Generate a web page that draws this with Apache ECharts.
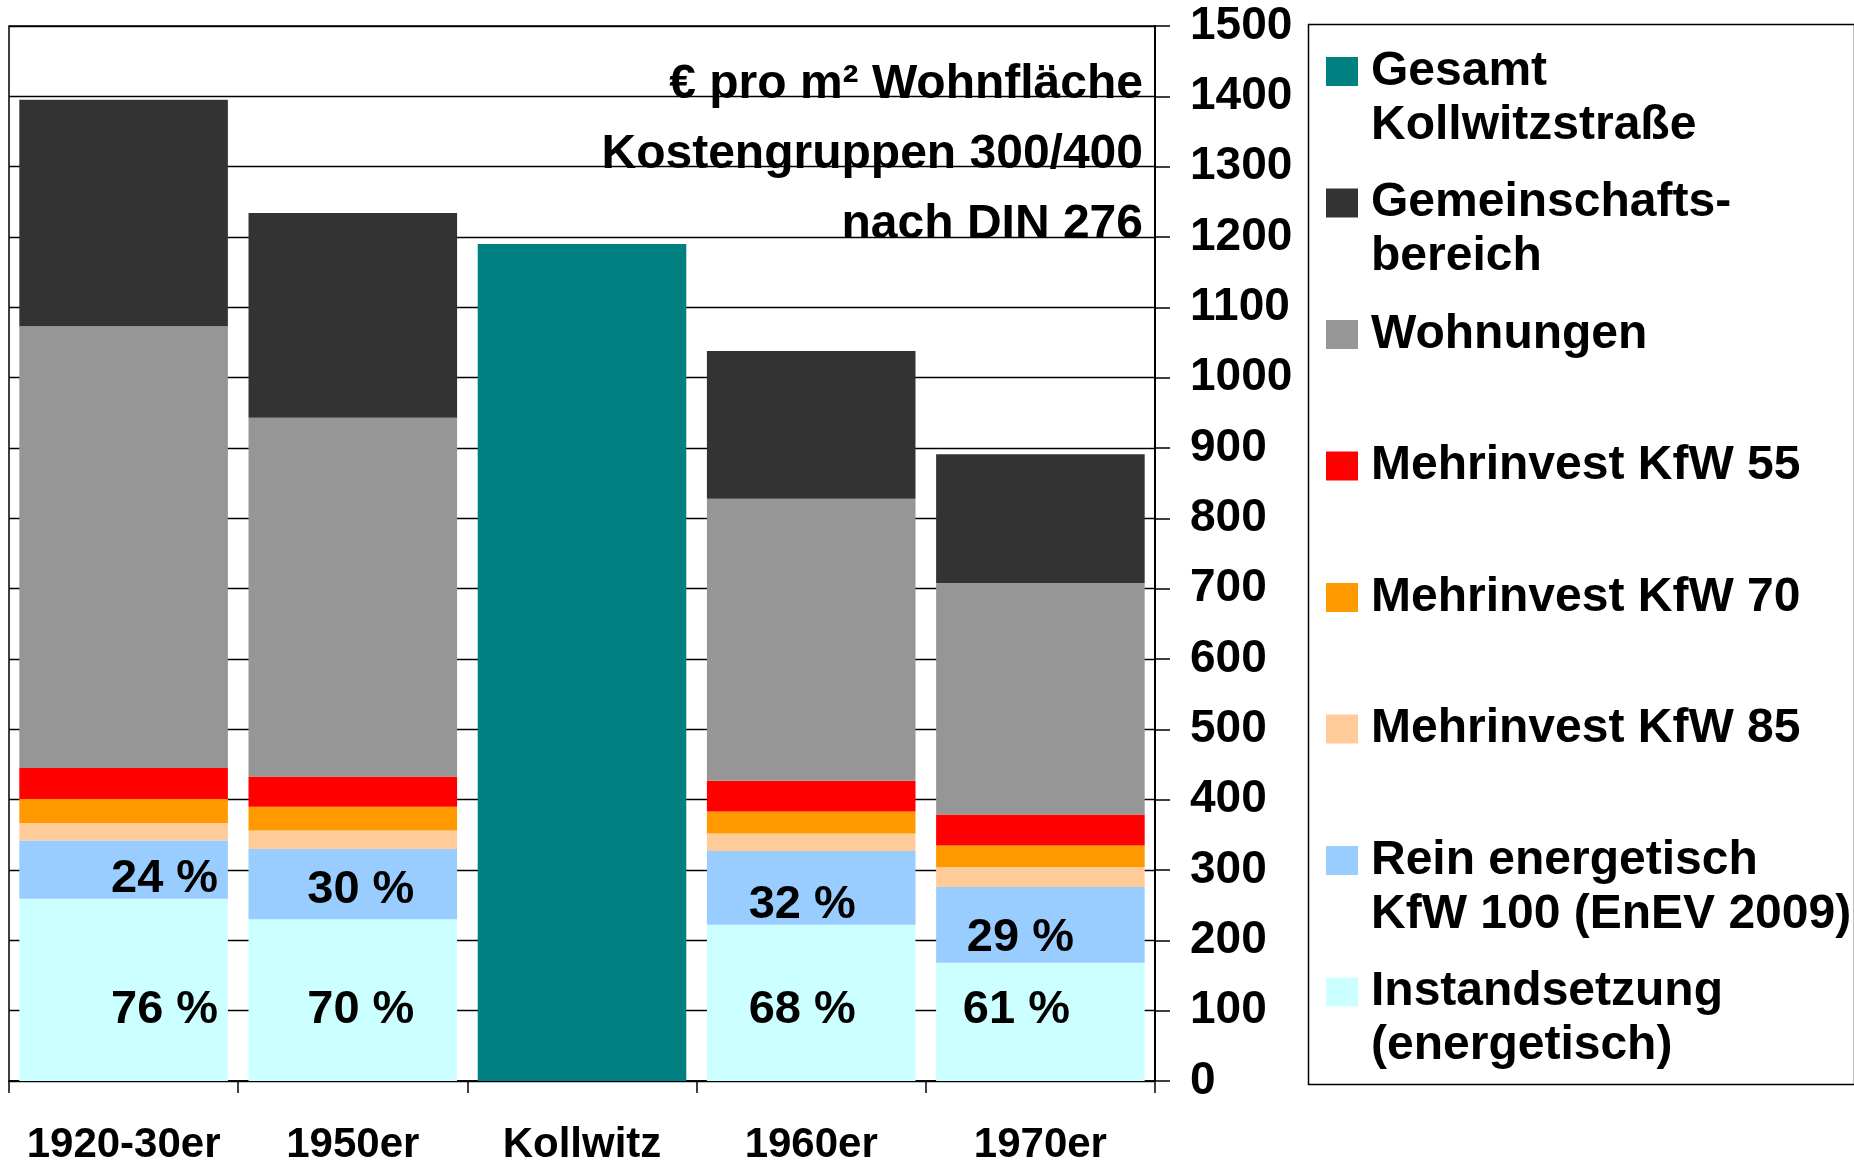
<!DOCTYPE html>
<html>
<head>
<meta charset="utf-8">
<script src="https://cdn.jsdelivr.net/npm/echarts@6/dist/echarts.min.js"></script>
<style>
html,body{margin:0;padding:0;background:#fff;}
#chart{width:1854px;height:1162px;}
</style>
</head>
<body>
<div id="chart"></div>
<script>
// ---- data ----
const categories = ['1920-30er', '1950er', 'Kollwitz', '1960er', '1970er'];
const instandsetzung = [259, 230, null, 222, 168];
const reinEnergetisch = [83, 100, null, 105, 108];
const kfw85 = [25, 26, null, 25, 28];
const kfw70 = [34, 34, null, 31, 31];
const kfw55 = [44, 43, null, 44, 44];
const wohnungen = [628, 510, null, 401, 329];
const gemeinschaft = [322, 291, null, 210, 183];
const gesamtKollwitz = [null, null, 1190, null, null];
const pctRein = ['24 %', '30 %', '', '32 %', '29 %'];
const pctInstand = ['76 %', '70 %', '', '68 %', '61 %'];
const yTicks = [0, 1500, 100];
const titleLines = ['€ pro m² Wohnfläche', 'Kostengruppen 300/400', 'nach DIN 276'];

// ---- styling / layout ----
const FONT = '"Liberation Sans", Arial, Helvetica, sans-serif';
const reinShift = [[41, 9], [8, 6], [0, 0], [-9, 17], [-20, 13]];
const instShift = [41, 8, 0, -9, -24];

const defs = [
  { name: 'Instandsetzung (energetisch)', legend: 'Instandsetzung\n(energetisch)', data: instandsetzung, color: '#CCFFFF' },
  { name: 'Rein energetisch KfW 100 (EnEV 2009)', legend: 'Rein energetisch\nKfW 100 (EnEV 2009)', data: reinEnergetisch, color: '#99CCFF' },
  { name: 'Mehrinvest KfW 85', legend: 'Mehrinvest KfW 85', data: kfw85, color: '#FFCC99' },
  { name: 'Mehrinvest KfW 70', legend: 'Mehrinvest KfW 70', data: kfw70, color: '#FF9900' },
  { name: 'Mehrinvest KfW 55', legend: 'Mehrinvest KfW 55', data: kfw55, color: '#FF0000' },
  { name: 'Wohnungen', legend: 'Wohnungen', data: wohnungen, color: '#969696' },
  { name: 'Gemeinschaftsbereich', legend: 'Gemeinschafts-\nbereich', data: gemeinschaft, color: '#333333' },
  { name: 'Gesamt Kollwitzstraße', legend: 'Gesamt\nKollwitzstraße', data: gesamtKollwitz, color: '#008080' }
];

const labelText = { fontSize: 47, fontWeight: 'bold', fontFamily: FONT, color: '#000' };

const series = defs.map(function (d) {
  const s = {
    name: d.name, type: 'bar', stack: 'total', barCategoryGap: '9%',
    itemStyle: { color: d.color }, emphasis: { disabled: true },
    data: d.data.map(function (v) { return v == null ? '-' : v; })
  };
  if (d.data === reinEnergetisch) {
    s.data = d.data.map(function (v, i) {
      if (v == null) return '-';
      return { value: v, label: { show: true, position: 'inside', offset: reinShift[i], formatter: pctRein[i], ...labelText } };
    });
  }
  if (d.data === instandsetzung) {
    s.data = d.data.map(function (v, i) {
      if (v == null) return '-';
      return { value: v, label: { show: true, position: 'insideBottom', distance: 47, offset: [instShift[i], 0], formatter: pctInstand[i], ...labelText } };
    });
  }
  return s;
});

// legend: one component per item, uniform spacing; first text line aligned with the swatch
const L = 54;
const legendOrder = defs.slice().reverse();
const legends = legendOrder.map(function (d, i) {
  const twoLine = d.legend.indexOf('\n') >= 0;
  const center = 71.5 + i * 131.5;
  return {
    show: true, orient: 'vertical', left: 1326,
    top: center - (twoLine ? 1.5 * L : 0.5 * L),
    padding: 0, itemWidth: 32, itemHeight: 29, icon: 'rect', selectedMode: false,
    data: [d.name],
    formatter: function () { return twoLine ? '\n' + d.legend : d.legend; },
    textStyle: { fontSize: 48, fontWeight: 'bold', fontFamily: FONT, color: '#000', lineHeight: L, padding: [0, 0, 0, 8] }
  };
});

const chart = echarts.init(document.getElementById('chart'));
chart.setOption({
  animation: false,
  backgroundColor: '#fff',
  title: {
    text: titleLines.join('\n'), left: 1143, top: 50, padding: 0,
    textAlign: 'right', textVerticalAlign: 'top',
    textStyle: { fontSize: 48, fontWeight: 'bold', fontFamily: FONT, color: '#000', lineHeight: 70 }
  },
  legend: legends,
  grid: { left: 9, right: 699, top: 26, bottom: 81, show: true, borderColor: '#000', borderWidth: 1.5,
    containLabel: false, outerBoundsMode: 'none' },
  xAxis: {
    type: 'category', data: categories,
    axisLine: { show: true, lineStyle: { color: '#000', width: 1.5 } },
    axisTick: { show: true, interval: 0, length: 12, lineStyle: { color: '#000', width: 1.5 } },
    axisLabel: { interval: 0, margin: 43, fontSize: 42, fontWeight: 'bold', fontFamily: FONT, color: '#000' }
  },
  yAxis: {
    type: 'value', position: 'right', min: yTicks[0], max: yTicks[1], interval: yTicks[2],
    axisLine: { show: true, lineStyle: { color: '#000', width: 2 } },
    axisTick: { show: true, length: 15, lineStyle: { color: '#000', width: 1.5 } },
    axisLabel: { margin: 35, fontSize: 46, fontWeight: 'bold', fontFamily: FONT, color: '#000',
      formatter: function (v) { return String(v); } },
    splitLine: { show: true, lineStyle: { color: '#000', width: 1.3 } }
  },
  graphic: [{
    type: 'rect', left: 1306, top: 22, z: -1,
    shape: { width: 546, height: 1060 },
    style: { fill: 'none', stroke: '#000', lineWidth: 1.5 }
  }],
  series: series
});
</script>
</body>
</html>
